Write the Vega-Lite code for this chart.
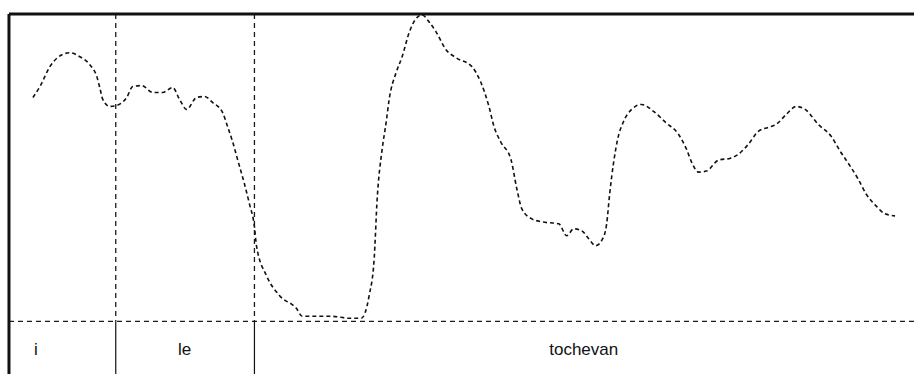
{
  "$schema": "https://vega.github.io/schema/vega-lite/v6.json",
  "width": 916,
  "height": 376,
  "padding": 0,
  "autosize": {"type": "fit", "contains": "padding"},
  "background": "white",
  "config": {"view": {"stroke": null}},
  "datasets": {
    "pitch": [
      {"t": 33, "f": 98}, {"t": 40, "f": 87}, {"t": 50, "f": 67}, {"t": 62, "f": 55}, {"t": 70, "f": 53},
      {"t": 80, "f": 57}, {"t": 90, "f": 65}, {"t": 97, "f": 77}, {"t": 100, "f": 88}, {"t": 103, "f": 100},
      {"t": 110, "f": 107}, {"t": 117, "f": 106}, {"t": 127, "f": 98}, {"t": 133, "f": 87}, {"t": 142, "f": 86},
      {"t": 153, "f": 93}, {"t": 163, "f": 93}, {"t": 173, "f": 88}, {"t": 180, "f": 100}, {"t": 187, "f": 110},
      {"t": 197, "f": 98}, {"t": 205, "f": 97}, {"t": 213, "f": 103}, {"t": 223, "f": 113}, {"t": 228, "f": 127},
      {"t": 233, "f": 142}, {"t": 238, "f": 160}, {"t": 245, "f": 185}, {"t": 250, "f": 205}, {"t": 255, "f": 228},
      {"t": 257, "f": 247}, {"t": 267, "f": 277}, {"t": 280, "f": 297}, {"t": 297, "f": 310}, {"t": 303, "f": 318},
      {"t": 318, "f": 318}, {"t": 333, "f": 318}, {"t": 350, "f": 320}, {"t": 362, "f": 320}, {"t": 370, "f": 297},
      {"t": 375, "f": 260}, {"t": 378, "f": 200}, {"t": 383, "f": 150}, {"t": 387, "f": 123}, {"t": 390, "f": 100},
      {"t": 397, "f": 73}, {"t": 403, "f": 57}, {"t": 410, "f": 33}, {"t": 416, "f": 20}, {"t": 423, "f": 15},
      {"t": 430, "f": 22}, {"t": 437, "f": 32}, {"t": 447, "f": 50}, {"t": 457, "f": 58}, {"t": 473, "f": 67},
      {"t": 482, "f": 83}, {"t": 490, "f": 107}, {"t": 495, "f": 127}, {"t": 502, "f": 143}, {"t": 512, "f": 160},
      {"t": 518, "f": 190}, {"t": 523, "f": 210}, {"t": 533, "f": 220}, {"t": 543, "f": 223}, {"t": 560, "f": 225},
      {"t": 568, "f": 237}, {"t": 575, "f": 230}, {"t": 583, "f": 232}, {"t": 590, "f": 240}, {"t": 597, "f": 247},
      {"t": 604, "f": 240}, {"t": 608, "f": 225}, {"t": 611, "f": 195}, {"t": 615, "f": 163}, {"t": 619, "f": 140},
      {"t": 625, "f": 122}, {"t": 633, "f": 110}, {"t": 643, "f": 105}, {"t": 655, "f": 112}, {"t": 667, "f": 123},
      {"t": 680, "f": 135}, {"t": 688, "f": 150}, {"t": 694, "f": 165}, {"t": 700, "f": 173}, {"t": 708, "f": 172},
      {"t": 720, "f": 161}, {"t": 732, "f": 159}, {"t": 740, "f": 155}, {"t": 750, "f": 145}, {"t": 760, "f": 132},
      {"t": 770, "f": 128}, {"t": 778, "f": 125}, {"t": 788, "f": 115}, {"t": 798, "f": 107}, {"t": 807, "f": 110},
      {"t": 820, "f": 125}, {"t": 833, "f": 137}, {"t": 842, "f": 152}, {"t": 852, "f": 167}, {"t": 860, "f": 180},
      {"t": 868, "f": 195}, {"t": 878, "f": 207}, {"t": 887, "f": 215}, {"t": 897, "f": 217}
    ],
    "frame": [
      {"x1": 9, "x2": 916, "y1": 14, "y2": 14},
      {"x1": 9, "x2": 9, "y1": 14, "y2": 376}
    ],
    "bounds": [
      {"t": 116}, {"t": 255}
    ],
    "baseline": [
      {"x1": 9, "x2": 916, "y": 323}
    ],
    "labels": [
      {"t": 36, "label": "i"},
      {"t": 185, "label": "le"},
      {"t": 585, "label": "tochevan"}
    ]
  },
  "layer": [
    {
      "data": {"name": "baseline"},
      "mark": {"type": "rule", "color": "#1a1a1a", "strokeWidth": 1.3, "strokeDash": [5, 4]},
      "encoding": {
        "x": {"field": "x1", "type": "quantitative", "scale": {"domain": [0, 916], "nice": false, "zero": false}, "axis": null},
        "x2": {"field": "x2"},
        "y": {"field": "y", "type": "quantitative", "scale": {"domain": [0, 376], "reverse": true, "nice": false, "zero": false}, "axis": null}
      }
    },
    {
      "data": {"name": "bounds"},
      "mark": {"type": "rule", "color": "#1a1a1a", "strokeWidth": 1.3, "strokeDash": [5, 4]},
      "encoding": {
        "x": {"field": "t", "type": "quantitative"},
        "y": {"datum": 14, "type": "quantitative"},
        "y2": {"datum": 323}
      }
    },
    {
      "data": {"name": "bounds"},
      "mark": {"type": "rule", "color": "#111", "strokeWidth": 1.2},
      "encoding": {
        "x": {"field": "t", "type": "quantitative"},
        "y": {"datum": 323, "type": "quantitative"},
        "y2": {"datum": 376}
      }
    },
    {
      "data": {"name": "pitch"},
      "mark": {"type": "line", "color": "#111", "strokeWidth": 1.6, "strokeDash": [4, 3], "interpolate": "monotone"},
      "encoding": {
        "x": {"field": "t", "type": "quantitative"},
        "y": {"field": "f", "type": "quantitative"}
      }
    },
    {
      "data": {"name": "frame"},
      "mark": {"type": "rule", "color": "#111", "strokeWidth": 3},
      "encoding": {
        "x": {"field": "x1", "type": "quantitative"},
        "x2": {"field": "x2"},
        "y": {"field": "y1", "type": "quantitative"},
        "y2": {"field": "y2"}
      }
    },
    {
      "data": {"name": "labels"},
      "mark": {"type": "text", "color": "#111", "font": "Liberation Sans", "fontSize": 17, "align": "center", "baseline": "middle"},
      "encoding": {
        "x": {"field": "t", "type": "quantitative"},
        "y": {"datum": 352, "type": "quantitative"},
        "text": {"field": "label"}
      }
    }
  ]
}
